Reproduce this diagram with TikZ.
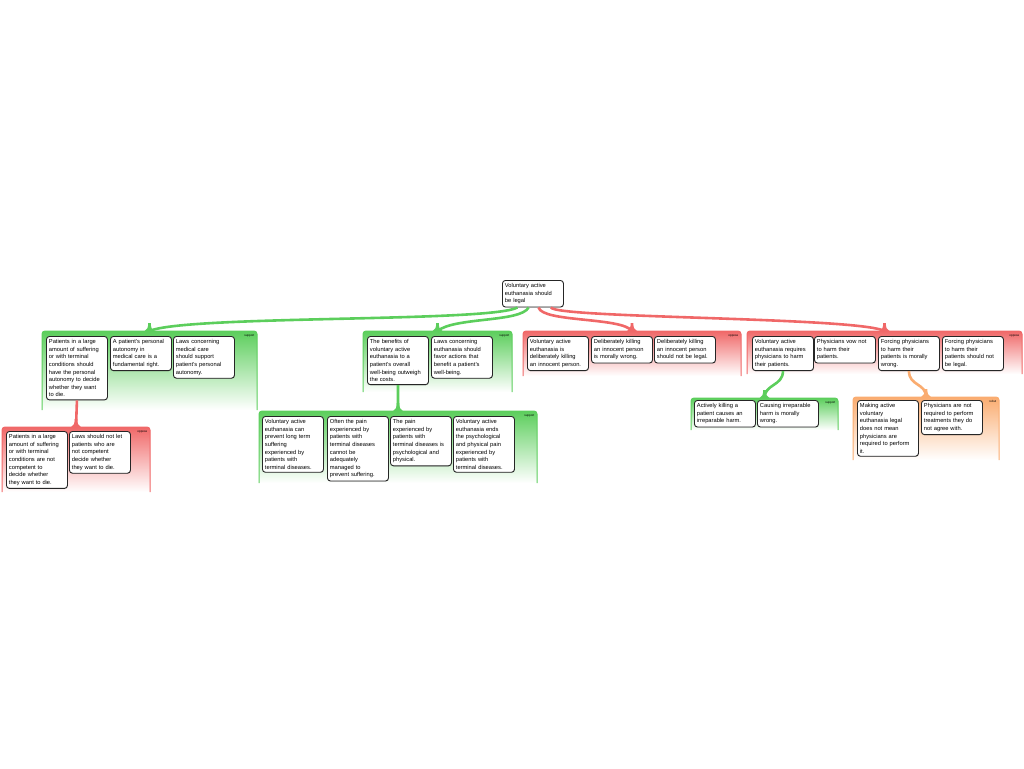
\documentclass[tikz,border=0pt]{standalone}
\usepackage{fontspec}
\setmainfont{Liberation Sans}
\usetikzlibrary{calc,positioning,shadows}
\definecolor{supgreen}{RGB}{92,206,92}
\definecolor{oppred}{RGB}{240,104,104}
\definecolor{rebutor}{RGB}{250,172,112}
\tikzset{
    claim/.style={draw=black!85, line width=0.9pt, rounded corners=3pt, fill=white,
      text width=56pt, inner xsep=2.5pt, inner ysep=3pt, align=left, anchor=north west,
      font=\fontsize{5.75}{7.6}\selectfont,
      drop shadow={shadow xshift=0.5pt, shadow yshift=-0.6pt, opacity=0.35}},
    grp/.style={anchor=north west, inner sep=0pt, outer sep=0pt, rounded corners=3pt,
      top color=#1, bottom color=white},
    grpedge/.style={draw=#1, line width=1pt, rounded corners=3pt},
    grplabel/.style={anchor=north east, inner sep=0pt, font=\fontsize{3}{3}\selectfont},
    link/.style={draw=#1, line width=2.6pt},
    flare/.pic={\fill (-5,0) .. controls (-2,-1) and (-1.4,-4) .. (-1.3,-8) -- (1.3,-8) .. controls (1.4,-4) and (2,-1) .. (5,0) -- cycle;},
  }

\begin{document}
\begin{tikzpicture}[x=1pt,y=-1pt]
				  \useasboundingbox (0,0) rectangle (1024,768);
				  %GROUPES
				  \node[grp=supgreen, minimum width=215pt, minimum height=79pt] (g1) at (42,331) {};
				  \node[grp=oppred, minimum width=148pt, minimum height=65pt] (g2) at (2,427) {};
				  \node[grp=supgreen, minimum width=149pt, minimum height=61pt] (g3) at (363,331) {};
				  \node[grp=supgreen, minimum width=278pt, minimum height=72pt] (g4) at (259,411) {};
				  \node[grp=oppred, minimum width=218pt, minimum height=45pt] (g5) at (523,331) {};
				  \node[grp=oppred, minimum width=275pt, minimum height=43pt] (g6) at (747,331) {};
				  \node[grp=supgreen, minimum width=147pt, minimum height=32pt] (g7) at (691,398) {};
				  \node[grp=rebutor, minimum width=146pt, minimum height=63pt] (g8) at (853,397) {};
				  \foreach \g/\c/\t in {g1/supgreen/support, g2/oppred/oppose, g3/supgreen/support,
				      g4/supgreen/support, g5/oppred/oppose, g6/oppred/oppose, g7/supgreen/support, g8/rebutor/rebut}{
				    \draw[grpedge=\c] (\g.south west) -- (\g.north west) -- (\g.north east) -- (\g.south east);
				    \node[grplabel] (\g l) at ($(\g.north east)+(-2.5,3.5)$) {\t};
				  }
				  %RACINE
				  \node[claim] (root) at (502,280) {Voluntary active\\ euthanasia should\\ be legal};
				  %g1
				  \node[claim] (b11) at (46,336) {Patients in a large\\ amount of suffering\\ or with terminal\\ conditions should\\ have the personal\\ autonomy to decide\\ whether they want\\ to die.};
				  \node[claim] (b12) at (110,336) {A patient's personal\\ autonomy in\\ medical care is a\\ fundamental right.};
				  \node[claim] (b13) at (173,336) {Laws concerning\\ medical care\\ should support\\ patient's personal\\ autonomy.};
				  %g2
				  \node[claim] (b21) at (6,431) {Patients in a large\\ amount of suffering\\ or with terminal\\ conditions are not\\ competent to\\ decide whether\\ they want to die.};
				  \node[claim] (b22) at (69,431) {Laws should not let\\ patients who are\\ not competent\\ decide whether\\ they want to die.};
				  %g3
				  \node[claim] (b31) at (367,336) {The benefits of\\ voluntary active\\ euthanasia to a\\ patient's overall\\ well-being outweigh\\ the costs.};
				  \node[claim] (b32) at (431,336) {Laws concerning\\ euthanasia should\\ favor actions that\\ benefit a patient's\\ well-being.};
				  %g4
				  \node[claim] (b41) at (262,416) {Voluntary active\\ euthanasia can\\ prevent long term\\ suffering\\ experienced by\\ patients with\\ terminal diseases.};
				  \node[claim] (b42) at (327,416) {Often the pain\\ experienced by\\ patients with\\ terminal diseases\\ cannot be\\ adequately\\ managed to\\ prevent suffering.};
				  \node[claim] (b43) at (390,416) {The pain\\ experienced by\\ patients with\\ terminal diseases is\\ psychological and\\ physical.};
				  \node[claim] (b44) at (453,416) {Voluntary active\\ euthanasia ends\\ the psychological\\ and physical pain\\ experienced by\\ patients with\\ terminal diseases.};
				  %g5
				  \node[claim] (b51) at (527,336) {Voluntary active\\ euthanasia is\\ deliberately killing\\ an innocent person.};
				  \node[claim] (b52) at (591,336) {Deliberately killing\\ an innocent person\\ is morally wrong.};
				  \node[claim] (b53) at (654,336) {Deliberately killing\\ an innocent person\\ should not be legal.};
				  %g6
				  \node[claim] (b61) at (752,336) {Voluntary active\\ euthanasia requires\\ physicians to harm\\ their patients.};
				  \node[claim] (b62) at (814,336) {Physicians vow not\\ to harm their\\ patients.};
				  \node[claim] (b63) at (878,336) {Forcing physicians\\ to harm their\\ patients is morally\\ wrong.};
				  \node[claim] (b64) at (942,336) {Forcing physicians\\ to harm their\\ patients should not\\ be legal.};
				  %g7
				  \node[claim] (b71) at (694,400) {Actively killing a\\ patient causes an\\ irreparable harm.};
				  \node[claim] (b72) at (757,400) {Causing irreparable\\ harm is morally\\ wrong.};
				  %g8
				  \node[claim] (b81) at (857,400) {Making active\\ voluntary\\ euthanasia legal\\ does not mean\\ physicians are\\ required to perform\\ it.};
				  \node[claim] (b82) at (921,400) {Physicians are not\\ required to perform\\ treatments they do\\ not agree with.};
				  %LIENS
				  \coordinate (r1) at ($(root.south west)!.25!(root.south east)$);
				  \coordinate (r2) at ($(root.south west)!.43!(root.south east)$);
				  \coordinate (r3) at ($(root.south west)!.59!(root.south east)$);
				  \coordinate (r4) at ($(root.south west)!.79!(root.south east)$);
				  \draw[link=supgreen] (r1) .. controls +(-27,15) and +(37,-16) .. (g1.north);
				  \draw[link=supgreen] (r2) .. controls +(-8,15) and +(17,-14) .. (g3.north);
				  \draw[link=oppred] (r3) .. controls +(4,15) and +(-10,-14) .. (g5.north);
				  \draw[link=oppred] (r4) .. controls +(5,11) and +(-27,-14) .. (g6.north);
				  \draw[link=oppred] (b11.south) -- (g2.north);
				  \draw[link=supgreen] (b31.south) -- (g4.north);
				  \draw[link=supgreen] (b61.south) .. controls +(0,15) and +(0,-14) .. (g7.north);
				  \draw[link=rebutor] (b63.south) .. controls +(0,15) and +(0,-14) .. (g8.north);
				  \foreach \g/\c in {g1/supgreen, g2/oppred, g3/supgreen, g4/supgreen, g5/oppred, g6/oppred, g7/supgreen, g8/rebutor}
				    \pic[color=\c] at (\g.north) {flare};
\end{tikzpicture}
\end{document}
